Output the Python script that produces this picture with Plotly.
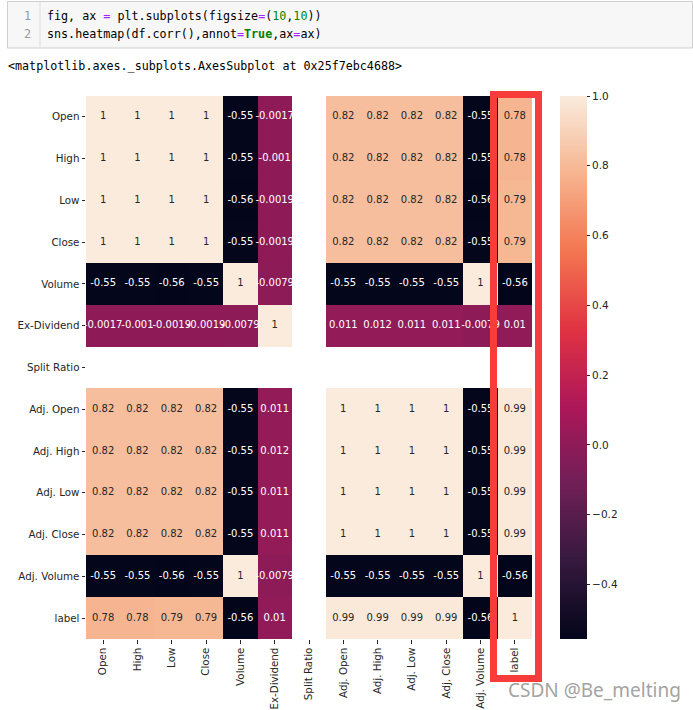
import plotly.graph_objects as go

labels = ["Open", "High", "Low", "Close", "Volume", "Ex-Dividend", "Split Ratio",
          "Adj. Open", "Adj. High", "Adj. Low", "Adj. Close", "Adj. Volume", "label"]

N = None
row_open = [1, 1, 1, 1, -0.55, -0.0017, N, 0.82, 0.82, 0.82, 0.82, -0.55, 0.78]
row_high = [1, 1, 1, 1, -0.55, -0.001, N, 0.82, 0.82, 0.82, 0.82, -0.55, 0.78]
row_low = [1, 1, 1, 1, -0.56, -0.0019, N, 0.82, 0.82, 0.82, 0.82, -0.56, 0.79]
row_close = [1, 1, 1, 1, -0.55, -0.0019, N, 0.82, 0.82, 0.82, 0.82, -0.55, 0.79]
row_volume = [-0.55, -0.55, -0.56, -0.55, 1, -0.0079, N, -0.55, -0.55, -0.55, -0.55, 1, -0.56]
row_exdiv = [-0.0017, -0.001, -0.0019, -0.0019, -0.0079, 1, N, 0.011, 0.012, 0.011, 0.011, -0.0079, 0.01]
row_split = [N] * 13
row_adj_open = [0.82, 0.82, 0.82, 0.82, -0.55, 0.011, N, 1, 1, 1, 1, -0.55, 0.99]
row_adj_high = [0.82, 0.82, 0.82, 0.82, -0.55, 0.012, N, 1, 1, 1, 1, -0.55, 0.99]
row_adj_low = [0.82, 0.82, 0.82, 0.82, -0.55, 0.011, N, 1, 1, 1, 1, -0.55, 0.99]
row_adj_close = [0.82, 0.82, 0.82, 0.82, -0.55, 0.011, N, 1, 1, 1, 1, -0.55, 0.99]
row_adj_volume = [-0.55, -0.55, -0.56, -0.55, 1, -0.0079, N, -0.55, -0.55, -0.55, -0.55, 1, -0.56]
row_label = [0.78, 0.78, 0.79, 0.79, -0.56, 0.01, N, 0.99, 0.99, 0.99, 0.99, -0.56, 1]

corr = [row_open, row_high, row_low, row_close, row_volume, row_exdiv, row_split,
        row_adj_open, row_adj_high, row_adj_low, row_adj_close, row_adj_volume, row_label]

cbar_vals = [-0.4, -0.2, 0.0, 0.2, 0.4, 0.6, 0.8, 1.0]
cbar_text = ["\u22120.4", "\u22120.2", "0.0", "0.2", "0.4", "0.6", "0.8", "1.0"]

ZMIN, ZMAX = -0.556, 1.0

rocket = [
    [0.0, "#03051a"],
    [1 / 7, "#35193e"],
    [2 / 7, "#701f57"],
    [3 / 7, "#ad1759"],
    [4 / 7, "#e13342"],
    [5 / 7, "#f37651"],
    [6 / 7, "#f6b48f"],
    [1.0, "#faebdd"],
]

# plot-area pixel geometry
L, T, W, H = 86, 96, 446, 543
FW, FH = 693, 710


def px(x):
    return (x - L) / W


def py(y):
    return 1 - (y - T) / H


fig = go.Figure()
fig.add_trace(go.Heatmap(
    z=corr, x=labels, y=labels, zmin=ZMIN, zmax=ZMAX, colorscale=rocket,
    hoverongaps=False,
    colorbar=dict(
        x=px(560), xanchor="left", xpad=0, y=0.5, yanchor="middle", ypad=0,
        thickness=27, lenmode="pixels", len=H, outlinewidth=0,
        tickvals=cbar_vals, ticktext=cbar_text, ticks="outside", ticklen=3.5,
        tickwidth=0.8, tickcolor="#262626",
        tickfont=dict(family="DejaVu Sans", size=10.5, color="#262626"),
    ),
))

dark_x, dark_y, dark_t, light_x, light_y, light_t = [], [], [], [], [], []
for i, rlab in enumerate(labels):
    for j, clab in enumerate(labels):
        v = corr[i][j]
        if v is None:
            continue
        s = "{:.2g}".format(v)
        if v > 0.3:
            dark_x.append(clab); dark_y.append(rlab); dark_t.append(s)
        else:
            light_x.append(clab); light_y.append(rlab); light_t.append(s)

fig.add_trace(go.Scatter(x=dark_x, y=dark_y, text=dark_t, mode="text", hoverinfo="skip",
                         showlegend=False,
                         textfont=dict(family="DejaVu Sans", size=10, color="#262626")))
fig.add_trace(go.Scatter(x=light_x, y=light_y, text=light_t, mode="text", hoverinfo="skip",
                         showlegend=False,
                         textfont=dict(family="DejaVu Sans", size=10, color="#ffffff")))

axis_common = dict(showgrid=False, zeroline=False, showline=False, ticks="outside",
                   ticklen=3.5, tickwidth=0.8, tickcolor="#262626",
                   tickfont=dict(family="DejaVu Sans", size=10.3, color="#262626"),
                   type="category", categoryorder="array", categoryarray=labels,
                   automargin=False)

fig.update_xaxes(**axis_common, tickangle=-90, range=[-0.5, 12.5])
fig.update_yaxes(**axis_common, range=[12.5, -0.5])

shapes = [
    # code cell box
    dict(type="rect", xref="paper", yref="paper", x0=px(7.5), x1=px(692.5), y0=py(1.5), y1=py(48),
         fillcolor="#f7f7f7", line=dict(color="#cfcfcf", width=1), layer="below"),
    dict(type="line", xref="paper", yref="paper", x0=px(40), x1=px(40), y0=py(2), y1=py(47.5),
         line=dict(color="#dddddd", width=1)),
    # red highlight box
    dict(type="rect", xref="paper", yref="paper", x0=px(493.5), x1=px(538.5), y0=py(94.5), y1=py(678.5),
         line=dict(color="#f83b3b", width=7), fillcolor="rgba(0,0,0,0)", layer="above"),
]

mono = dict(family="DejaVu Sans Mono", size=11.7, color="#000000")
P = '<span style="color:#aa22ff">=</span>'
G = lambda s: '<span style="color:#008800">%s</span>' % s
line1 = "fig, ax " + P + " plt.subplots(figsize" + P + "(" + G("10") + "," + G("10") + "))"
line2 = "sns.heatmap(df.corr(),annot" + P + '<b><span style="color:#008000">True</span></b>,ax' + P + "ax)"

annotations = [
    dict(text="1", x=px(33), y=py(16), xref="paper", yref="paper", xanchor="right", yanchor="middle",
         showarrow=False, font=dict(family="DejaVu Sans Mono", size=11.7, color="#999999")),
    dict(text="2", x=px(33), y=py(33.5), xref="paper", yref="paper", xanchor="right", yanchor="middle",
         showarrow=False, font=dict(family="DejaVu Sans Mono", size=11.7, color="#999999")),
    dict(text=line1, x=px(45), y=py(16), xref="paper", yref="paper", xanchor="left", yanchor="middle",
         showarrow=False, font=mono),
    dict(text=line2, x=px(45), y=py(33.5), xref="paper", yref="paper", xanchor="left", yanchor="middle",
         showarrow=False, font=mono),
    dict(text="&lt;matplotlib.axes._subplots.AxesSubplot at 0x25f7ebc4688&gt;", x=px(6), y=py(66),
         xref="paper", yref="paper", xanchor="left", yanchor="middle", showarrow=False, font=mono),
    dict(text="CSDN @Be_melting", x=px(506), y=py(690), xref="paper", yref="paper",
         xanchor="left", yanchor="middle", showarrow=False,
         font=dict(family="Noto Sans", size=19, color="#a3a3a3")),
]

fig.update_layout(
    width=FW, height=FH, autosize=False,
    margin=dict(l=L, r=FW - L - W, t=T, b=FH - T - H, pad=0),
    paper_bgcolor="white", plot_bgcolor="white",
    shapes=shapes, annotations=annotations, showlegend=False,
)

fig.write_html("out.html", config={"displayModeBar": False},
               post_script="document.body.style.margin='0';document.body.style.overflow='hidden';")
